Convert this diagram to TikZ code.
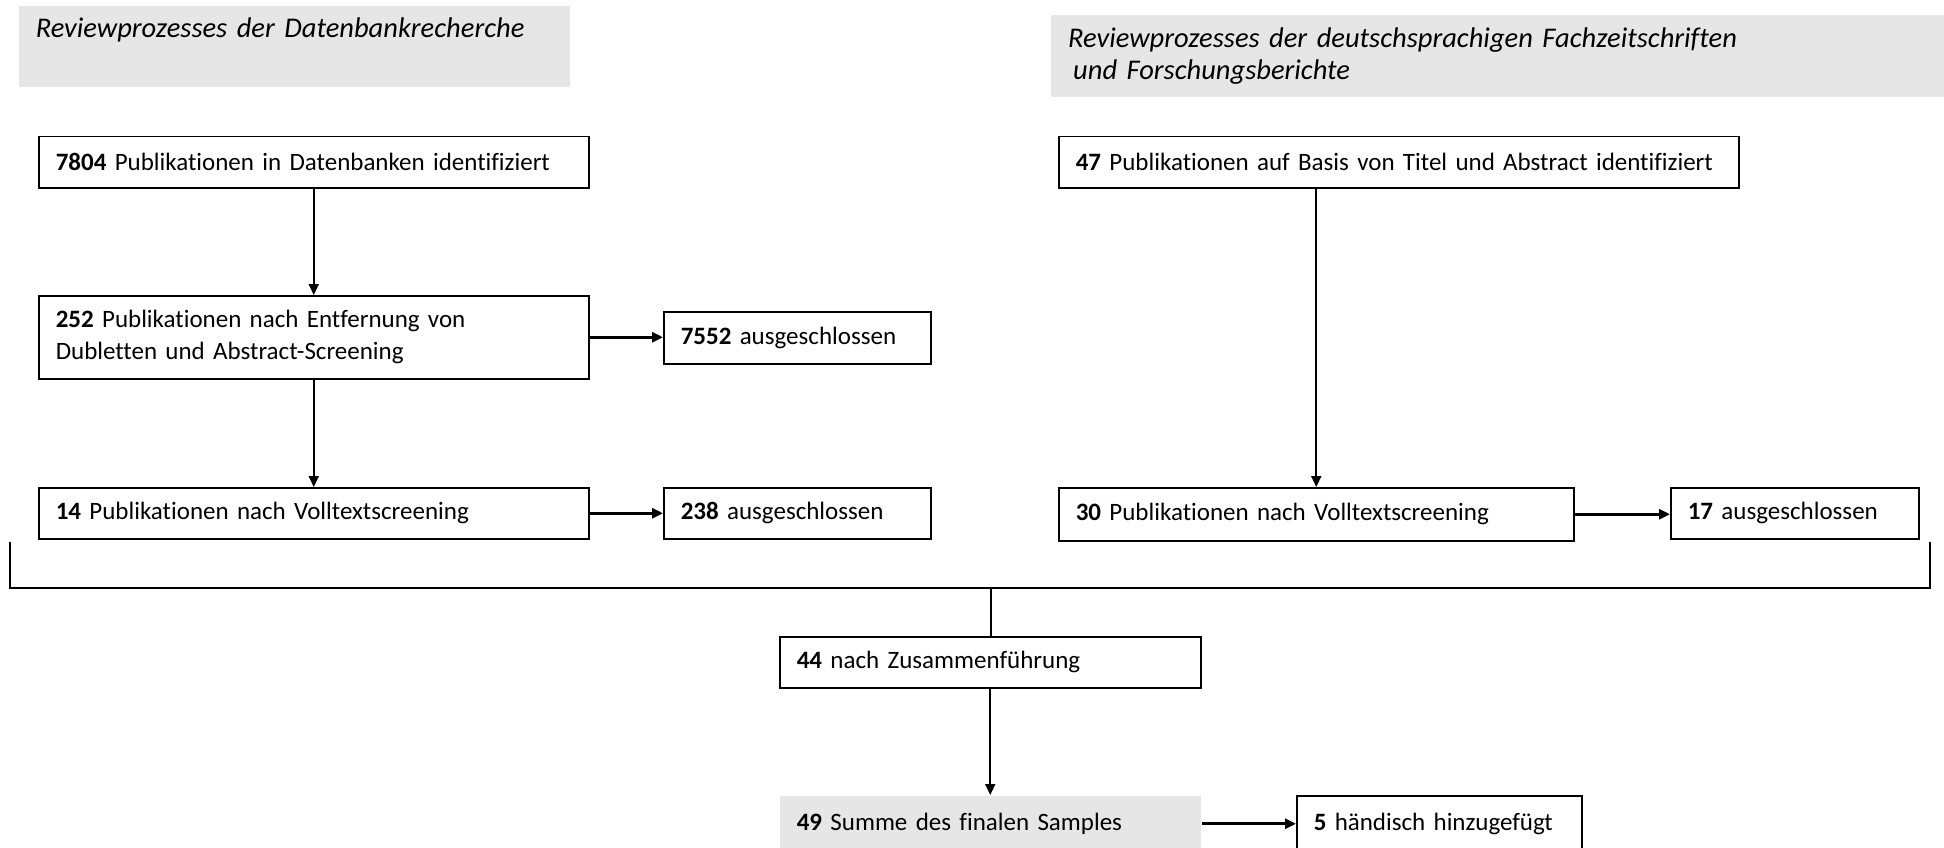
\documentclass[tikz,border=0pt]{standalone}
\usepackage{fontspec}
\setmainfont{Carlito}[Ligatures=NoCommon]
\usetikzlibrary{arrows.meta}

\definecolor{hdrgray}{HTML}{E6E6E6}

\tikzset{
  procbox/.style={draw, line width=1.5pt, anchor=north west, align=left,
    inner xsep=17pt, inner ysep=0pt, font=\fontsize{25}{32}\selectfont},
  hdrbox/.style={fill=hdrgray, anchor=north west, align=left,
    inner xsep=17pt, inner ysep=0pt, font=\fontsize{28.5}{32}\selectfont\itshape},
  flowline/.style={line width=2pt},
  flowarrow/.style={line width=2pt, -{Triangle[length=11pt,width=10pt]}},
  sidearrow/.style={line width=3pt, -{Triangle[length=11pt,width=10pt]}}
}

\begin{document}
\begin{tikzpicture}[x=1pt, y=-1pt]
      \useasboundingbox (0,0) rectangle (1944,848);

      \node[hdrbox, text width=517pt, minimum height=81pt] (hdrDb) at (18.6,6)
        {Reviewprozesses der Datenbankrecherche\\\rule[-7pt]{0pt}{7pt}};
      \node[hdrbox, text width=859pt, minimum height=82pt] (hdrJournal) at (1051,15)
        {Reviewprozesses der deutschsprachigen Fachzeitschriften\\\hspace*{5pt}und Forschungsberichte};

      \node[procbox, text width=516pt, minimum height=51pt] (pubDb) at (38,136)
        {\textbf{7804} Publikationen in Datenbanken identifiziert};
      \node[procbox, text width=516pt, minimum height=83pt] (pubDedup) at (38,295)
        {\textbf{252} Publikationen nach Entfernung von\\Dubletten und Abstract-Screening};
      \node[procbox, text width=233pt, minimum height=52pt] (exclDedup) at (663,311)
        {\textbf{7552} ausgeschlossen};
      \node[procbox, text width=516pt, minimum height=51pt] (pubFull) at (38,487)
        {\textbf{14} Publikationen nach Volltextscreening};
      \node[procbox, text width=233pt, minimum height=51pt] (exclFull) at (663,487)
        {\textbf{238} ausgeschlossen};

      \node[procbox, text width=646pt, minimum height=51pt] (pubJournal) at (1058,136)
        {\textbf{47} Publikationen auf Basis von Titel und Abstract identifiziert};
      \node[procbox, text width=481pt, minimum height=53pt] (pubJournalFull) at (1058,487)
        {\textbf{30} Publikationen nach Volltextscreening};
      \node[procbox, text width=214pt, minimum height=51pt] (exclJournal) at (1670,487)
        {\textbf{17} ausgeschlossen};

      \node[procbox, text width=387pt, minimum height=51pt] (merged) at (779,636)
        {\textbf{44} nach Zusammenführung};
      \node[procbox, draw=none, fill=hdrgray, text width=387pt, minimum height=56pt] (finalSample) at (779,795)
        {\textbf{49} Summe des finalen Samples};
      \node[procbox, text width=251pt, minimum height=56pt] (manual) at (1296,795)
        {\textbf{5} händisch hinzugefügt};

      \coordinate (brL) at (10,542);
      \coordinate (brR) at (1930,542);
      \coordinate (brJoin) at (991,588);

      \draw[flowarrow] (pubDb.south) -- (pubDedup.north);
      \draw[flowarrow] (pubDedup.south) -- (pubFull.north);
      \draw[flowarrow] (pubJournalFull.north |- pubJournal.south) -- (pubJournalFull.north);
      \draw[sidearrow] (pubDedup.east) -- (pubDedup.east -| exclDedup.west);
      \draw[sidearrow] (pubFull.east) -- (exclFull.west);
      \draw[sidearrow] (pubJournalFull.east) -- (pubJournalFull.east -| exclJournal.west);

      \draw[flowline] (brL) |- (brJoin) -| (brR);
      \draw[flowline] (brJoin) -- (brJoin |- merged.north);
      \draw[flowarrow] (merged.south) -- (finalSample.north);
      \draw[sidearrow] (finalSample.east) -- (manual.west);
\end{tikzpicture}
\end{document}
